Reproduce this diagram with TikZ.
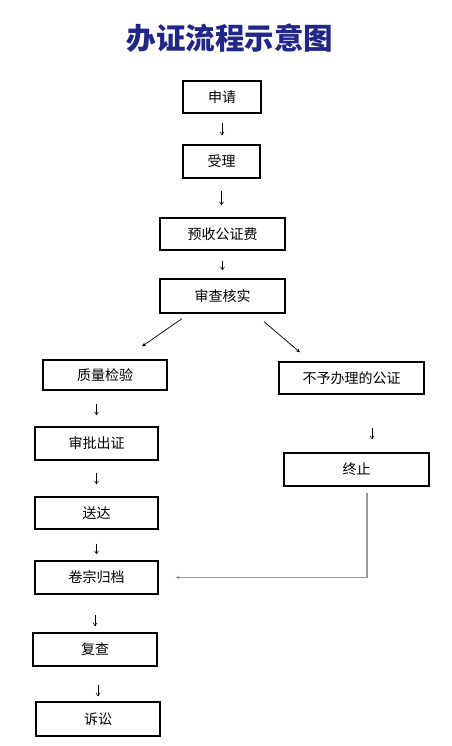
\documentclass[tikz,border=0pt]{standalone}
\usepackage{fontspec}
\usepackage{tikz}
\usetikzlibrary{arrows.meta}
\newfontfamily\cjk{Noto Sans CJK SC}
\definecolor{titleblue}{RGB}{34,38,140}
\tikzset{box/.style={draw, line width=1.3pt, align=center, inner sep=0pt, font=\cjk\fontsize{14}{16}\selectfont},
tick/.style={-{Straight Barb[length=3pt, width=4pt]}, line width=0.6pt},
slant/.style={-{Stealth[length=4pt, width=3.5pt]}, line width=0.7pt},
back/.style={-{Stealth[length=4pt, width=3.5pt]}, line width=1.2pt, gray!80}}

\begin{document}
\begin{tikzpicture}[x=1pt, y=-1pt]
  \useasboundingbox[fill=white] (0,0) rectangle (451,746);
  \node[font=\cjk\bfseries\fontsize{29.5}{32}\selectfont, text=titleblue] (title) at (230,38) {办证流程示意图};
  \node[box, minimum width=78, minimum height=32] (apply) at (222,97) {申请};
  \node[box, minimum width=77, minimum height=33] (accept) at (221.5,161.5) {受理};
  \node[box, minimum width=125, minimum height=32] (fee) at (222.5,234) {预收公证费};
  \node[box, minimum width=125, minimum height=34] (review) at (222.5,296) {审查核实};
  \node[box, minimum width=124, minimum height=30] (quality) at (105,375) {质量检验};
  \node[box, minimum width=145, minimum height=32] (refuse) at (351.5,378) {不予办理的公证};
  \node[box, minimum width=123, minimum height=33] (approve) at (96.5,443.5) {审批出证};
  \node[box, minimum width=145, minimum height=33] (stop) at (356.5,469.5) {终止};
  \node[box, minimum width=123, minimum height=32] (deliver) at (96.5,513) {送达};
  \node[box, minimum width=123, minimum height=33] (archive) at (96.5,577.5) {卷宗归档};
  \node[box, minimum width=124, minimum height=33] (recheck) at (95,649.5) {复查};
  \node[box, minimum width=124, minimum height=34] (sue) at (98,719) {诉讼};
  \draw[tick, shorten <=9pt, shorten >=9pt] (apply.south) -- (apply.south |- accept.north);
  \draw[tick, shorten <=12pt, shorten >=12pt] (accept.south) -- (accept.south |- fee.north);
  \draw[tick, shorten <=10pt, shorten >=8pt] (fee.south) -- (fee.south |- review.north);
  \draw[slant] ([xshift=-40.5pt, yshift=-5pt]review.south) -- ([xshift=37pt, yshift=13pt]quality.north);
  \draw[slant] ([xshift=41.5pt, yshift=-8pt]review.south) -- ([xshift=-51.5pt, yshift=9pt]refuse.north);
  \draw[tick, shorten <=13pt, shorten >=11pt] (quality.south -| approve.north) -- (approve.north);
  \draw[tick, shorten <=33pt, shorten >=13pt] ([xshift=15.5pt]stop.north |- refuse.south) -- ([xshift=15.5pt]stop.north);
  \draw[tick, shorten <=12pt, shorten >=12pt] (approve.south) -- (deliver.north);
  \draw[tick, shorten <=14pt, shorten >=6pt] (deliver.south) -- (archive.north);
  \draw[back, shorten <=6pt, shorten >=17pt] ([xshift=10.5pt]stop.south) |- (archive.east);
  \draw[tick, shorten <=20pt, shorten >=6pt] (archive.south -| recheck.north) -- (recheck.north);
  \draw[tick, shorten <=18pt, shorten >=5pt] (recheck.south -| sue.north) -- (sue.north);
\end{tikzpicture}
\end{document}
